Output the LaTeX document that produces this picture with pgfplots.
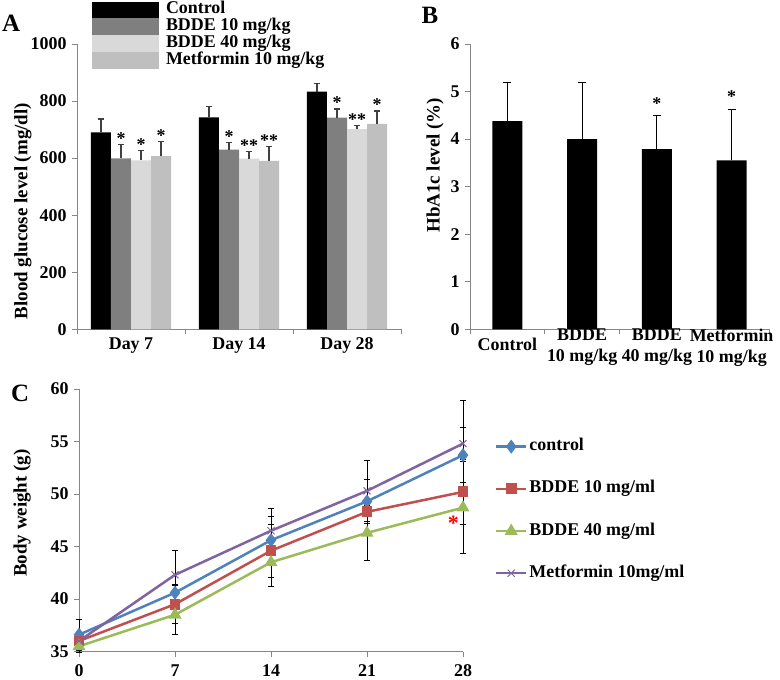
\documentclass[border=0pt]{standalone}
\usepackage{fontspec}
\setmainfont{Liberation Serif}
\usepackage{pgfplots}
\pgfplotsset{compat=1.18}
\definecolor{axgray}{HTML}{868686}
\definecolor{bar2}{HTML}{7F7F7F}
\definecolor{bar3}{HTML}{D9D9D9}
\definecolor{bar4}{HTML}{BFBFBF}
\definecolor{errgray}{HTML}{404040}
\definecolor{cblue}{HTML}{4F81BD}
\definecolor{cred}{HTML}{C0504D}
\definecolor{cgreen}{HTML}{9BBB59}
\definecolor{cpurple}{HTML}{8064A2}
\newcommand{\tfont}{\fontsize{18}{21}\selectfont\bfseries}
\newcommand{\lfont}{\fontsize{19}{22}\selectfont\bfseries}
\pgfplotsset{
  myaxis/.style={
    scale only axis, anchor=south west, clip=false,
    axis lines*=left,
    axis line style={draw=axgray, line width=0.8bp},
    tick style={draw=axgray, line width=0.8bp},
    tick align=outside, major tick length=5bp, minor tick length=5bp,
    tick label style={font=\tfont},
    /pgf/number format/assume math mode=true,
    /pgf/number format/1000 sep={},
    label style={font=\lfont},
    yticklabel style={xshift=-2bp},
  },
  boxlegend/.style={legend image code/.code={\fill[##1] (0bp,-8.35bp) rectangle (67bp,8.35bp);}},
  linelegend/.style={legend image code/.code={\draw[mark repeat=2,mark phase=2,##1] plot coordinates {(0bp,0bp) (15bp,0bp) (30bp,0bp)};}},
  aerr/.style={error bars/.cd, y dir=plus, y explicit,
    error bar style={draw=errgray, line width=1.2bp},
    error mark options={rotate=90, draw=errgray, mark size=3bp, line width=1.2bp}},
  cerr/.style={error bars/.cd, y dir=both, y explicit,
    error bar style={draw=black, line width=0.8bp},
    error mark options={rotate=90, draw=black, mark size=3bp, line width=0.8bp}},
}
\begin{document}
\begin{tikzpicture}
\useasboundingbox (0,0) rectangle (780bp,680bp);

% ---------------- Panel A ----------------
\begin{axis}[myaxis, at={(77bp,350.7bp)}, width=324bp, height=285.3bp,
  xmin=-0.5, xmax=2.5, ymin=0, ymax=1000, ytick={0,200,...,1000},
  xtick={-0.5,0.5,1.5,2.5}, xticklabels={},
  extra x ticks={0,1,2}, extra x tick labels={Day 7,Day 14,Day 28},
  extra x tick style={major tick length=0pt, xticklabel style={anchor=center, yshift=-16bp}},
  ylabel={Blood glucose level (mg/dl)},
  ylabel style={at={(axis description cs:-0.167,0.414)}, anchor=center},
  legend cell align=left,
  legend style={at={(axis description cs:0.0463,1.148)}, anchor=north west,
    draw=none, fill=none, inner sep=0pt, outer sep=0pt, row sep=0pt,
    font=\fontsize{18}{21}\selectfont\bfseries,
    nodes={inner ysep=0pt, inner xsep=7bp, text height=12.2bp, text depth=4.5bp}},
]
\addplot[ybar, bar width=20bp, bar shift=0bp, fill=black, draw=none, boxlegend, aerr]
  coordinates {(-0.2778,690) +- (0,47) (0.7222,743) +- (0,37) (1.7222,833) +- (0,29)};
\addplot[ybar, bar width=20bp, bar shift=0bp, fill=bar2, draw=none, boxlegend, aerr]
  coordinates {(-0.0926,599) +- (0,49) (0.9074,630) +- (0,25) (1.9074,742) +- (0,30)};
\addplot[ybar, bar width=20bp, bar shift=0bp, fill=bar3, draw=none, boxlegend, aerr]
  coordinates {(0.0926,592) +- (0,34) (1.0926,598) +- (0,25) (2.0926,702) +- (0,12)};
\addplot[ybar, bar width=20bp, bar shift=0bp, fill=bar4, draw=none, boxlegend, aerr]
  coordinates {(0.2778,607) +- (0,51) (1.2778,590) +- (0,51) (2.2778,720) +- (0,45)};
\legend{Control, BDDE 10 mg/kg, BDDE 40 mg/kg, Metformin 10 mg/kg}
\begin{scope}[every node/.style={anchor=south, inner sep=0pt, font=\tfont}]
\node at (axis cs:-0.0926,648) {*};
\node at (axis cs:0.0926,626) {*};
\node at (axis cs:0.2778,658) {*};
\node at (axis cs:0.9074,655) {*};
\node at (axis cs:1.0926,623) {**};
\node at (axis cs:1.2778,641) {**};
\node at (axis cs:1.9074,772) {*};
\node at (axis cs:2.0926,714) {**};
\node at (axis cs:2.2778,765) {*};
\end{scope}
\end{axis}

% ---------------- Panel B ----------------
\begin{axis}[myaxis, at={(470bp,350.7bp)}, width=299bp, height=285.3bp,
  xmin=-0.5, xmax=3.5, ymin=0, ymax=6, ytick={0,1,...,6},
  xtick={-0.5,0.5,1.5,2.5,3.5}, xticklabels={},
  ylabel={HbA1c level (\%)},
  ylabel style={at={(axis description cs:-0.117,0.575)}, anchor=center},
]
\addplot[ybar, bar width=30bp, bar shift=0bp, fill=black, draw=none,
  error bars/.cd, y dir=plus, y explicit,
  error bar style={draw=black, line width=1bp},
  error mark options={rotate=90, draw=black, mark size=4bp, line width=1bp}]
  coordinates {(0,4.38) +- (0,0.81) (1,4.00) +- (0,1.20) (2,3.79) +- (0,0.70) (3,3.55) +- (0,1.08)};
\begin{scope}[every node/.style={anchor=south, inner sep=0pt, yshift=6bp, font=\tfont}]
\node at (axis cs:2,4.49) {*};
\node at (axis cs:3,4.63) {*};
\end{scope}
\begin{scope}[every node/.style={anchor=center, inner sep=0pt, yshift=-18bp, font=\tfont}]
\node at (axis cs:0,0) [yshift=3bp] {Control};
\node[align=center] at (axis cs:1,0) {BDDE\\10 mg/kg};
\node[align=center] at (axis cs:2,0) {BDDE\\40 mg/kg};
\node[align=center] at (axis cs:3,0) {Metformin\\10 mg/kg};
\end{scope}
\end{axis}

% ---------------- Panel C ----------------
\begin{axis}[myaxis, at={(79bp,28.5bp)}, width=384bp, height=262.5bp,
  xmin=0, xmax=28, ymin=35, ymax=60,
  xtick={0,7,14,21,28}, ytick={35,40,...,60},
  xticklabel style={anchor=center, yshift=-14bp},
  ylabel={Body weight (g)},
  ylabel style={at={(axis description cs:-0.148,0.527)}, anchor=center},
  legend cell align=left,
  legend style={at={(axis description cs:1.0833,0.811)}, anchor=north west,
    draw=none, fill=none, inner sep=0pt, outer sep=0pt, row sep=26.2bp,
    font=\fontsize{18}{21}\selectfont\bfseries,
    nodes={inner ysep=0pt, inner xsep=2bp, text height=12bp, text depth=4bp}},
]
\addplot[cblue, line width=2.5bp, mark=diamond*, mark size=5bp, mark options={solid}, linelegend, cerr]
  coordinates {(0,36.6) +- (0,1.5) (7,40.6) +- (0,0.8) (14,45.6) +- (0,2.3) (21,49.3) +- (0,2.1) (28,53.7) +- (0,2.6)};
\addplot[cred, line width=2.5bp, mark=square*, mark size=4.2bp, linelegend, cerr]
  coordinates {(0,36.0) +- (0,0.6) (7,39.5) +- (0,1.8) (14,44.6) +- (0,2.5) (21,48.3) +- (0,0.9) (28,50.2) +- (0,3.1)};
\addplot[cgreen, line width=2.5bp, mark=triangle*, mark size=5bp, linelegend, cerr]
  coordinates {(0,35.5) +- (0,0.6) (7,38.5) +- (0,1.9) (14,43.5) +- (0,2.3) (21,46.3) +- (0,2.6) (28,48.7) +- (0,4.4)};
\addplot[cpurple, line width=2.5bp, mark=x, mark size=5bp, mark options={line width=1bp}, linelegend, cerr]
  coordinates {(0,36.0) +- (0,0.7) (7,42.3) +- (0,2.3) (14,46.5) +- (0,2.1) (21,50.3) +- (0,2.9) (28,54.8) +- (0,4.1)};
\legend{control, BDDE 10 mg/ml, BDDE 40 mg/ml, Metformin 10mg/ml}
\node[anchor=base, inner sep=0pt, text=red, font=\fontsize{22}{24}\selectfont\bfseries] at (axis cs:27.3,46.5) {*};
\end{axis}

% panel letters
\node[font=\fontsize{25}{28}\selectfont\bfseries] at (11bp,657bp) {A};
\node[font=\fontsize{25}{28}\selectfont\bfseries] at (430bp,665bp) {B};
\node[font=\fontsize{25}{28}\selectfont\bfseries] at (20bp,287bp) {C};
\end{tikzpicture}
\end{document}
